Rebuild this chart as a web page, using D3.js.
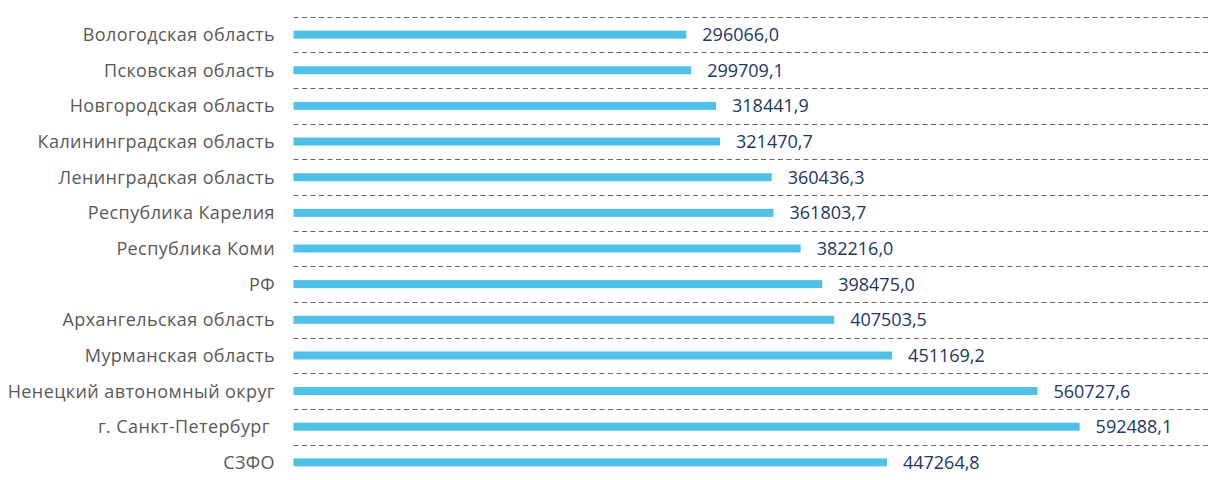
<!DOCTYPE html>
<html>
<head>
<meta charset="utf-8">
<script src="https://cdn.jsdelivr.net/npm/d3@7"></script>
<style>
  body { margin: 0; background: #fff; }
  svg { display: block; }
</style>
</head>
<body>
<div id="chart"></div>
<script>
// regions, top to bottom
var regions = [
  "Вологодская область",
  "Псковская область",
  "Новгородская область",
  "Калининградская область",
  "Ленинградская область",
  "Республика Карелия",
  "Республика Коми",
  "РФ",
  "Архангельская область",
  "Мурманская область",
  "Ненецкий автономный округ",
  "г. Санкт-Петербург ",
  "СЗФО"
];
var values = [296066.0, 299709.1, 318441.9, 321470.7, 360436.3, 361803.7, 382216.0,
  398475.0, 407503.5, 451169.2, 560727.6, 592488.1, 447264.8];

var W = 1210, H = 480;
var svg = d3.select("#chart").append("svg").attr("width", W).attr("height", H);

var x = d3.scaleLinear().domain([0, 690000]).range([293.5, 1209]);
var y = d3.scaleBand().domain(regions).range([16.8, 480.2]).padding(0);

var ru = d3.formatLocale({decimal: ",", thousands: " ", grouping: [3], currency: ["", ""]});
var fmt = ru.format(".1f");

// dashed grid at band borders
svg.append("g").selectAll("line")
  .data(regions)
  .enter().append("line")
  .attr("x1", x.range()[0]).attr("x2", x.range()[1])
  .attr("y1", function(d) { return Math.round(y(d)) + 0.5; })
  .attr("y2", function(d) { return Math.round(y(d)) + 0.5; })
  .attr("stroke", "#666")
  .attr("stroke-width", 1)
  .attr("stroke-dasharray", "5,3.5");

var barH = 8;
svg.append("g").selectAll("rect")
  .data(regions)
  .enter().append("rect")
  .attr("x", x(0))
  .attr("y", function(d) { return y(d) + y.bandwidth() / 2 - barH / 2; })
  .attr("width", function(d, i) { return x(values[i]) - x(0); })
  .attr("height", barH)
  .attr("fill", "#4fc1e9");

// category labels
svg.append("g").selectAll("text")
  .data(regions)
  .enter().append("text")
  .attr("x", 275)
  .attr("y", function(d) { return y(d) + y.bandwidth() / 2; })
  .attr("dy", "0.36em")
  .attr("text-anchor", "end")
  .style("white-space", "pre")
  .style("letter-spacing", "0.4px")
  .attr("font-family", "'Open Sans', sans-serif")
  .attr("font-size", 18)
  .attr("fill", "#595959")
  .text(function(d) { return d; });

// value labels
svg.append("g").selectAll("text")
  .data(regions)
  .enter().append("text")
  .attr("x", function(d, i) { return x(values[i]) + 16; })
  .attr("y", function(d) { return y(d) + y.bandwidth() / 2; })
  .attr("dy", "0.36em")
  .attr("font-family", "'Open Sans', sans-serif")
  .attr("font-size", 18)
  .attr("fill", "#203864")
  .text(function(d, i) { return fmt(values[i]); });
</script>
</body>
</html>
